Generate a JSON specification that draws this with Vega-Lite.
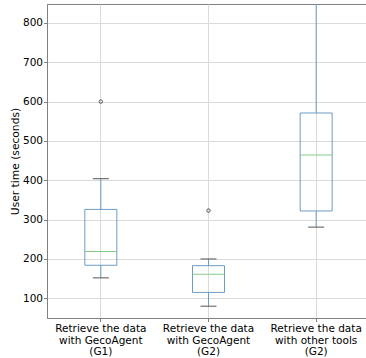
{
  "$schema": "https://vega.github.io/schema/vega-lite/v6.json",
  "autosize": "none",
  "padding": {"left": 47, "top": 4, "right": 0, "bottom": 40},
  "width": 323,
  "height": 314,
  "config": {
    "font": "DejaVu Sans",
    "view": {"stroke": "#808080", "strokeWidth": 1},
    "axis": {
      "labelFont": "DejaVu Sans",
      "titleFont": "DejaVu Sans",
      "labelFontSize": 10.5,
      "titleFontSize": 10.7,
      "labelColor": "#000000",
      "titleColor": "#000000",
      "titleFontWeight": "normal",
      "domainColor": "#808080",
      "tickColor": "#808080",
      "tickSize": 3.5,
      "labelPadding": 1,
      "gridColor": "#dadada",
      "gridWidth": 1
    }
  },
  "datasets": {
    "boxes": [
      {"group": "Retrieve the data|with GecoAgent|(G1)", "low": 152, "q1": 184, "median": 219, "q3": 326, "high": 404},
      {"group": "Retrieve the data|with GecoAgent|(G2)", "low": 80, "q1": 115, "median": 161, "q3": 183, "high": 200},
      {"group": "Retrieve the data|with other tools|(G2)", "low": 281, "q1": 322, "median": 464, "q3": 571, "high": 900}
    ],
    "outliers": [
      {"group": "Retrieve the data|with GecoAgent|(G1)", "value": 600},
      {"group": "Retrieve the data|with GecoAgent|(G2)", "value": 323}
    ]
  },
  "data": {"name": "boxes"},
  "encoding": {
    "x": {
      "field": "group",
      "type": "nominal",
      "sort": null,
      "scale": {"paddingInner": 0, "paddingOuter": 0},
      "axis": {
        "title": null,
        "labelAngle": 0,
        "labelExpr": "split(datum.label, '|')",
        "labelLineHeight": 11.6,
        "grid": true,
        "bandPosition": 0.5,
        "labelPadding": 2
      }
    }
  },
  "layer": [
    {
      "mark": {"type": "rule", "color": "#6d9cc5", "strokeWidth": 1, "clip": true},
      "encoding": {
        "y": {"field": "low", "type": "quantitative", "scale": {"domain": [50, 848], "nice": false, "zero": false},
          "axis": {"title": "User time (seconds)", "values": [100, 200, 300, 400, 500, 600, 700, 800], "grid": true, "titlePadding": 2}},
        "y2": {"field": "q1"}
      }
    },
    {
      "mark": {"type": "rule", "color": "#6d9cc5", "strokeWidth": 1, "clip": true},
      "encoding": {
        "y": {"field": "q3", "type": "quantitative"},
        "y2": {"field": "high"}
      }
    },
    {
      "mark": {"type": "bar", "size": 32, "fill": "#ffffff", "fillOpacity": 0, "stroke": "#6d9cc5", "strokeWidth": 1, "clip": true},
      "encoding": {
        "y": {"field": "q1", "type": "quantitative"},
        "y2": {"field": "q3"}
      }
    },
    {
      "mark": {"type": "tick", "size": 32, "thickness": 1, "color": "#86cc86", "opacity": 1},
      "encoding": {
        "y": {"field": "median", "type": "quantitative"}
      }
    },
    {
      "mark": {"type": "tick", "size": 16, "thickness": 1, "color": "#555555", "opacity": 1, "clip": true},
      "encoding": {
        "y": {"field": "low", "type": "quantitative"}
      }
    },
    {
      "mark": {"type": "tick", "size": 16, "thickness": 1, "color": "#555555", "opacity": 1, "clip": true},
      "encoding": {
        "y": {"field": "high", "type": "quantitative"}
      }
    },
    {
      "data": {"name": "outliers"},
      "mark": {"type": "point", "shape": "circle", "filled": false, "size": 12, "stroke": "#333333", "strokeWidth": 0.8, "opacity": 1},
      "encoding": {
        "y": {"field": "value", "type": "quantitative"}
      }
    }
  ]
}
